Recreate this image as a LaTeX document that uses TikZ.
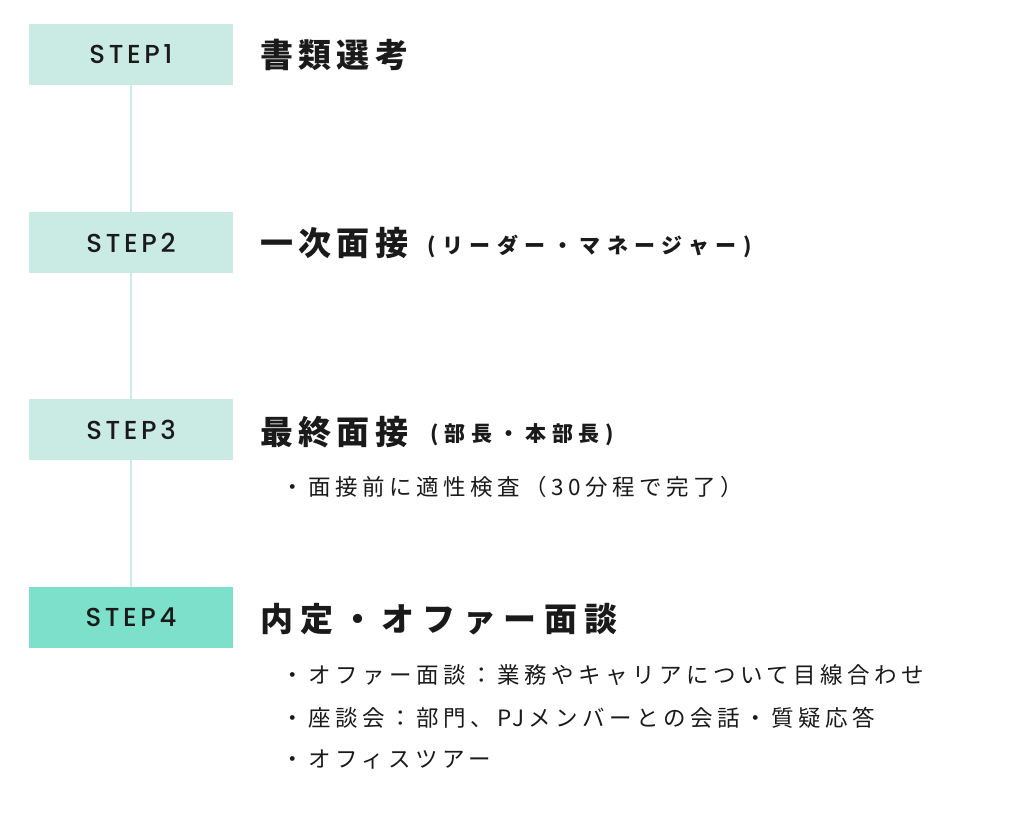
\documentclass[tikz,border=0pt]{standalone}
\usepackage{fontspec}
\newfontfamily\jptitle{Noto Sans CJK JP}[LetterSpace=16]
\newfontfamily\jptitlewide{Noto Sans CJK JP}[LetterSpace=23]
\newfontfamily\jpsubA{Noto Sans CJK JP}[LetterSpace=31]
\newfontfamily\jpsubB{Noto Sans CJK JP}[LetterSpace=28]
\newfontfamily\jpbody{Noto Sans CJK JP}[LetterSpace=20]
\newfontfamily\stepfont{Poppins Medium}[LetterSpace=14]
\definecolor{boxlight}{HTML}{CAEBE4}
\definecolor{boxdark}{HTML}{7DE0CB}
\definecolor{linecol}{HTML}{CDEBE4}
\definecolor{txt}{HTML}{1A1A1A}
\tikzset{
  stepbox/.style={fill=boxlight, draw=none, minimum width=204pt, minimum height=61pt, inner sep=0pt,
    font=\stepfont\fontsize{26}{30}\selectfont, text=txt},
  stepboxdark/.style={stepbox, fill=boxdark},
  titletext/.style={anchor=west, inner sep=0pt, text=txt, font=\jptitle\bfseries\fontsize{33}{40}\selectfont},
  subA/.style={anchor=west, inner sep=0pt, text=txt, font=\jpsubA\bfseries\fontsize{21}{25}\selectfont},
  subB/.style={anchor=west, inner sep=0pt, text=txt, font=\jpsubB\bfseries\fontsize{21}{25}\selectfont},
  bodytext/.style={anchor=west, inner sep=0pt, text=txt, font=\jpbody\fontsize{22.5}{27}\selectfont},
  link/.style={draw=linecol, line width=2pt}
}
\begin{document}
\begin{tikzpicture}[x=1pt, y=-1pt]
\useasboundingbox (0,0) rectangle (1024,819);
% step boxes
\node[stepbox] (s1) at (131,54.5) {STEP1};
\node[stepbox] (s2) at (131,242.5) {STEP2};
\node[stepbox] (s3) at (131,429.5) {STEP3};
\node[stepboxdark] (s4) at (131,617.5) {STEP4};
% connectors
\draw[link] (s1.south) -- (s2.north);
\draw[link] (s2.south) -- (s3.north);
\draw[link] (s3.south) -- (s4.north);
% titles
\node[titletext] (t1) at (260,55) {書類選考};
\node[titletext] (t2) at (260,243) {一次面接};
\node[subA] (u2) at (427,246) {(リーダー・マネージャー)};
\node[titletext] (t3) at (260,432) {最終面接};
\node[subB] (u3) at (430,435) {(部長・本部長)};
\node[titletext, font=\jptitlewide\bfseries\fontsize{33}{40}\selectfont] (t4) at (260,619) {内定・オファー面談};
% bullets
\node[bodytext] (b1) at (281,487) {・面接前に適性検査（30分程で完了）};
\node[bodytext] (b2) at (281,675) {・オファー面談：業務やキャリアについて目線合わせ};
\node[bodytext] (b3) at (281,718) {・座談会：部門、PJメンバーとの会話・質疑応答};
\node[bodytext] (b4) at (281,760) {・オフィスツアー};
\end{tikzpicture}
\end{document}
